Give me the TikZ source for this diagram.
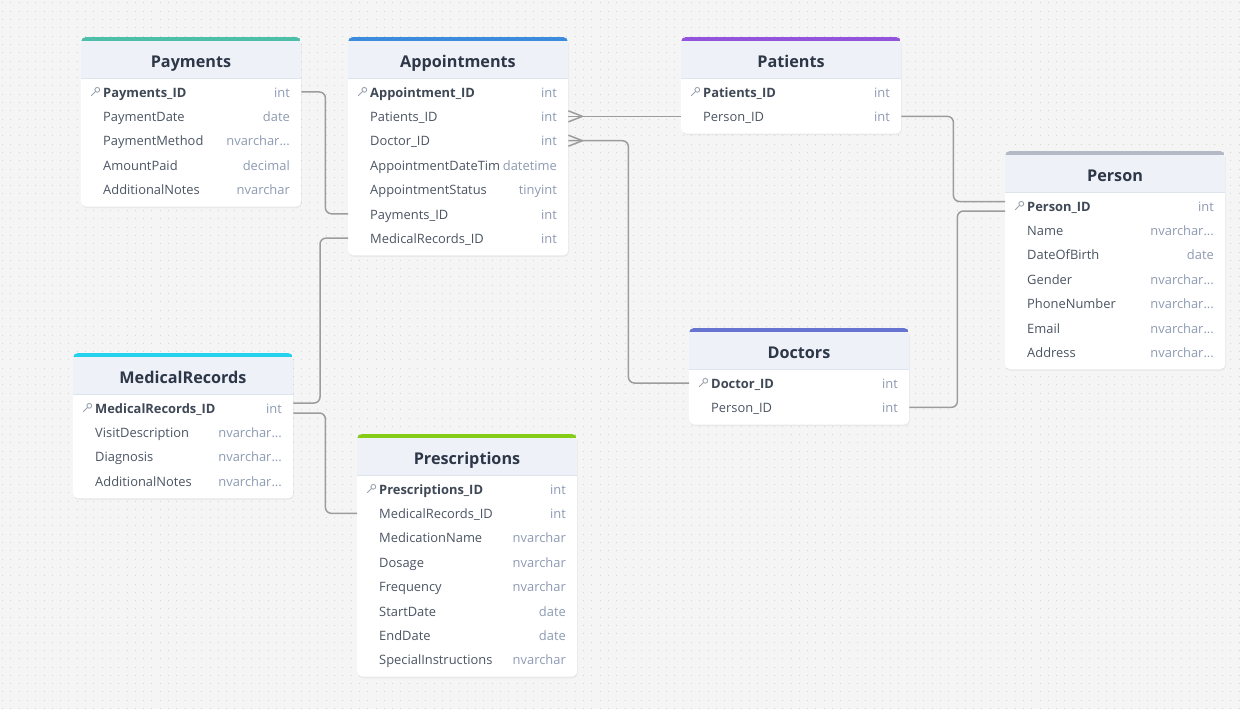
\documentclass[tikz,border=0pt]{standalone}
\usepackage{fontspec}
\setmainfont{Open Sans}
\usetikzlibrary{shadows,calc}
\definecolor{bgc}{HTML}{F5F5F5}
\definecolor{dotc}{HTML}{D4D4D4}
\definecolor{hdrc}{HTML}{EEF2F8}
\definecolor{sepc}{HTML}{DCE4EE}
\definecolor{titlec}{HTML}{2D3748}
\definecolor{fieldc}{HTML}{4B5563}
\definecolor{pkc}{HTML}{3F4856}
\definecolor{typec}{HTML}{8E9BB2}
\definecolor{keyc}{HTML}{9AA3AE}
\definecolor{connc}{HTML}{9C9C9C}
\definecolor{payc}{HTML}{4DBFA8}
\definecolor{appc}{HTML}{3B8CDC}
\definecolor{patc}{HTML}{9254DC}
\definecolor{perc}{HTML}{B3BAC5}
\definecolor{medc}{HTML}{25D2EE}
\definecolor{prec}{HTML}{84CC16}
\definecolor{docc}{HTML}{6673CF}
\newcommand\erdel{...}
\tikzset{
  card/.style={fill=white, rounded corners=5pt, inner sep=0pt, minimum width=220pt,
    drop shadow={opacity=0.10, shadow xshift=0.6pt, shadow yshift=-1.6pt}},
  rowbox/.style={minimum width=220pt, minimum height=24pt, inner sep=0pt},
  titletxt/.style={font=\fontsize{16.2}{19}\selectfont\bfseries, text=titlec, inner sep=0pt},
  fieldtxt/.style={font=\fontsize{12.9}{15}\selectfont, text=fieldc, inner sep=0pt},
  pktxt/.style={font=\fontsize{12.9}{15}\selectfont\bfseries, text=pkc, inner sep=0pt},
  typetxt/.style={font=\fontsize{12.9}{15}\selectfont, text=typec, fill=white, inner xsep=3pt, inner ysep=1pt},
  conn/.style={draw=connc, line width=1.5pt, rounded corners=6pt},
  keyline/.style={draw=keyc, line width=0.9pt}
}
% #1 id, #2 x, #3 y, #4 bar colour, #5 title, #6 row count, #7 rows
\newcommand\erdtab[7]{%
  \pgfmathsetmacro\erdh{55+(#6-1)*24.35+17}
  \node[card, minimum height=\erdh pt, anchor=north west] (#1) at (#2,#3) {};
  \begin{scope}
    \clip[rounded corners=5pt] (#2,#3) rectangle ++(220,\erdh);
    \fill[hdrc] (#2,#3) rectangle ++(220,41);
    \fill[#4] (#2,#3) rectangle ++(220,4);
  \end{scope}
  \draw[sepc, line width=0.8pt] (#2,#3+41) -- ++(220,0);
  \node[titletxt, anchor=base] (#1title) at (#2+110,#3+30) {#5};
  \foreach \nm/\ty [count=\i] in {#7} {
    \pgfmathsetmacro\ry{#3+55+(\i-1)*24.35}
    \node[rowbox, anchor=west] (#1R\i) at (#2,\ry) {};
    \ifnum\i=1
      \draw[keyline] (#2+16.3,\ry-2.2) circle (2.4pt);
      \draw[keyline] (#2+14.6,\ry-0.5) -- (#2+10.2,\ry+3.9);
      \node[pktxt, anchor=mid west] (#1n\i) at (#2+22,\ry+2.6) {\nm};
    \else
      \node[fieldtxt, anchor=mid west] (#1n\i) at (#2+22,\ry+2.6) {\nm};
    \fi
    \node[typetxt, anchor=mid east] (#1t\i) at (#2+212,\ry+2.6) {\ty};
  }
}
\begin{document}
\begin{tikzpicture}[x=1pt, y=-1pt]
\useasboundingbox (0,0) rectangle (1240,709);
\fill[bgc] (0,0) rectangle (1240,709);
\foreach \yy in {3,11.3,...,709}
  \draw[dotc, line width=1pt, dash pattern=on 1pt off 7.3pt] (2,\yy) -- (1240,\yy);

\erdtab{pay}{81}{37}{payc}{Payments}{5}{Payments\_ID/int, PaymentDate/date, PaymentMethod/nvarchar\erdel, AmountPaid/decimal, AdditionalNotes/nvarchar}
\erdtab{app}{348}{37}{appc}{Appointments}{7}{Appointment\_ID/int, Patients\_ID/int, Doctor\_ID/int, AppointmentDateTime/datetime, AppointmentStatus/tinyint, Payments\_ID/int, MedicalRecords\_ID/int}
\erdtab{pat}{681}{37}{patc}{Patients}{2}{Patients\_ID/int, Person\_ID/int}
\erdtab{per}{1005}{151}{perc}{Person}{7}{Person\_ID/int, Name/nvarchar\erdel, DateOfBirth/date, Gender/nvarchar\erdel, PhoneNumber/nvarchar\erdel, Email/nvarchar\erdel, Address/nvarchar\erdel}
\erdtab{med}{73}{353}{medc}{MedicalRecords}{4}{MedicalRecords\_ID/int, VisitDescription/nvarchar\erdel, Diagnosis/nvarchar\erdel, AdditionalNotes/nvarchar\erdel}
\erdtab{pre}{357}{434}{prec}{Prescriptions}{8}{Prescriptions\_ID/int, MedicalRecords\_ID/int, MedicationName/nvarchar, Dosage/nvarchar, Frequency/nvarchar, StartDate/date, EndDate/date, SpecialInstructions/nvarchar}
\erdtab{doc}{689}{328}{docc}{Doctors}{2}{Doctor\_ID/int, Person\_ID/int}

% connectors
\draw[conn] (payR1.east) -- ++(24,0) |- (appR6.west);
\draw[conn] (appR7.west) -- ++(-28,0) |- ([yshift=5pt]medR1.east);
\draw[conn] ([yshift=-5pt]medR1.east) -- ++(32,0) |- (preR2.west);
\draw[conn] (appR2.east) -- (patR2.west);
\draw[conn, rounded corners=0pt] ([yshift=5.5pt]appR2.east) -- ([xshift=14pt]appR2.east) -- ([yshift=-5.5pt]appR2.east);
\draw[conn] (appR3.east) -- ++(60,0) |- (docR1.west);
\draw[conn, rounded corners=0pt] ([yshift=5.5pt]appR3.east) -- ([xshift=14pt]appR3.east) -- ([yshift=-5.5pt]appR3.east);
\draw[conn] (patR2.east) -- ++(52,0) |- ([yshift=4.5pt]perR1.west);
\draw[conn] (docR2.east) -- ++(48,0) |- ([yshift=-5pt]perR1.west);
\end{tikzpicture}
\end{document}
